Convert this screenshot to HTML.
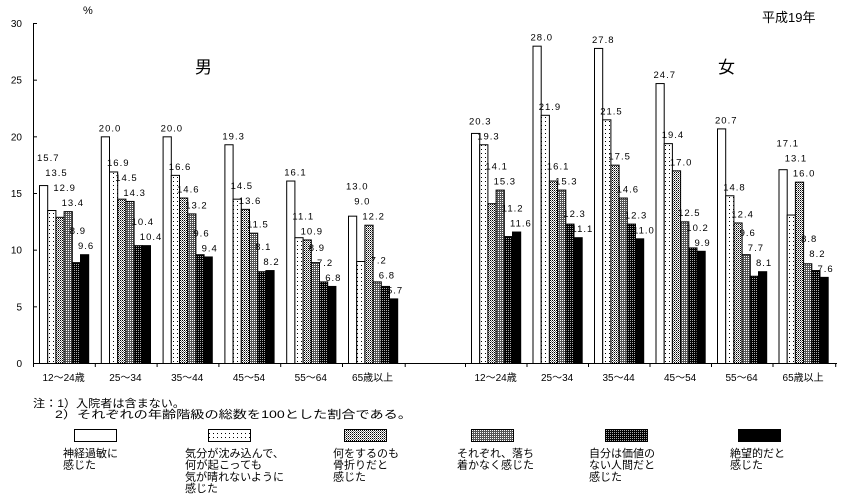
<!DOCTYPE html>
<html><head><meta charset="utf-8">
<style>
body{margin:0;background:#fff;}
svg{display:block;}
text{font-family:"Liberation Sans","Noto Sans CJK JP",sans-serif;fill:#000;}
</style></head>
<body>
<svg width="847" height="495" viewBox="0 0 847 495" xmlns="http://www.w3.org/2000/svg">
<defs>
<pattern id="p1" width="4" height="4" patternUnits="userSpaceOnUse"><rect width="4" height="4" fill="#fff"/><rect x="1" y="1" width="1" height="1" fill="#000"/></pattern>
<pattern id="p2" width="2" height="2" patternUnits="userSpaceOnUse"><rect width="2" height="2" fill="#fff"/><rect width="1" height="1" fill="#000"/><rect x="1" y="1" width="1" height="1" fill="#777"/></pattern>
<pattern id="p3" width="2" height="2" patternUnits="userSpaceOnUse"><rect width="2" height="2" fill="#555"/><rect width="1" height="1" fill="#fff"/></pattern>
<pattern id="p4" width="2" height="2" patternUnits="userSpaceOnUse"><rect width="2" height="2" fill="#000"/><rect width="1" height="1" fill="#aaa"/></pattern>
</defs>
<g id="axes"></g>
<g id="bars"></g>
<g id="labels"></g>
<text x="83" y="14" font-size="11">%</text>
<text x="762" y="22" font-size="13">平成19年</text>
<text x="195" y="73" font-size="17">男</text>
<text x="718" y="73" font-size="17">女</text>
<text x="33" y="407" font-size="11" textLength="152" lengthAdjust="spacingAndGlyphs">注：1）入院者は含まない。</text>
<text x="55" y="418" font-size="11" textLength="357" lengthAdjust="spacingAndGlyphs">2）それぞれの年齢階級の総数を100とした割合である。</text>
<g id="legend"></g>
</svg>
<script>
const categories=["12～24歳","25～34","35～44","45～54","55～64","65歳以上"];
const seriesNames=[["神経過敏に","感じた"],["気分が沈み込んで、","何が起こっても","気が晴れないように","感じた"],["何をするのも","骨折りだと","感じた"],["それぞれ、落ち","着かなく感じた"],["自分は価値の","ない人間だと","感じた"],["絶望的だと","感じた"]];
const male1=[15.7,20.0,20.0,19.3,16.1,13.0];
const male2=[13.5,16.9,16.6,14.5,11.1,9.0];
const male3=[12.9,14.5,14.6,13.6,10.9,12.2];
const male4=[13.4,14.3,13.2,11.5,8.9,7.2];
const male5=[8.9,10.4,9.6,8.1,7.2,6.8];
const male6=[9.6,10.4,9.4,8.2,6.8,5.7];
const female1=[20.3,28.0,27.8,24.7,20.7,17.1];
const female2=[19.3,21.9,21.5,19.4,14.8,13.1];
const female3=[14.1,16.1,17.5,17.0,12.4,16.0];
const female4=[15.3,15.3,14.6,12.5,9.6,8.8];
const female5=[11.2,12.3,12.3,10.2,7.7,8.2];
const female6=[11.6,11.1,11.0,9.9,8.1,7.6];
const yTicks=[0,5,10,15,20,25,30];

const NS="http://www.w3.org/2000/svg";
const fills=["#fff","url(#p1)","url(#p2)","url(#p3)","url(#p4)","#000"];
const y0=363, y30=23;
function yS(v){return y0-(v/30)*(y0-y30);}
const bw=8.2;
function mk(tag,attrs,parent){const e=document.createElementNS(NS,tag);for(const k in attrs)e.setAttribute(k,attrs[k]);parent.appendChild(e);return e;}
const axes=document.getElementById('axes'),bars=document.getElementById('bars'),labels=document.getElementById('labels'),legend=document.getElementById('legend');

const yAxis=mk('line',{x1:33.5,y1:y30,x2:33.5,y2:y0,stroke:'#000'},axes);


const xAxis=mk('line',{x1:33,y1:y0+0.5,x2:837,y2:y0+0.5,stroke:'#000'},axes);


yTicks.forEach(t=>{
  const y=yS(t);
  mk('line',{x1:33,y1:y+0.5,x2:37,y2:y+0.5,stroke:'#000'},axes);
  const tx=mk('text',{x:22,y:y+4,'font-size':10,'text-anchor':'end'},axes);
  tx.textContent=t;
  
  
});
function groupX(g,i){return g==0?39+61.8*i:471+61.5*i;}
const maleS=[male1,male2,male3,male4,male5,male6];
const femaleS=[female1,female2,female3,female4,female5,female6];
[maleS,femaleS].forEach((S,g)=>{
  categories.forEach((c,i)=>{
    const gx=groupX(g,i);
    mk('line',{x1:gx-5.5,y1:y0,x2:gx-5.5,y2:y0+4,stroke:'#000'},axes);
    const cl=mk('text',{x:gx+bw*3,y:381,'font-size':10,'text-anchor':'middle'},axes);
    cl.textContent=c;
    
    
    const ly=[];
    for(let s=5;s>=0;s--){
      let y=yS(S[s][i])-5;
      if(s<5) y=Math.min(y,ly[s+1]-15);
      ly[s]=y;
    }
    S.forEach((arr,s)=>{
      const v=arr[i],x=gx+s*bw,top=yS(v);
      const r=mk('rect',{x:x+0.5,y:top+0.5,width:bw,height:y0-top,fill:fills[s],stroke:'#000','stroke-width':1},bars);
      
      
      const t=mk('text',{x:x-2,y:ly[s],'font-size':9.5,'letter-spacing':'1'},labels);
      t.textContent=v.toFixed(1);
      
      
    });
  });
  mk('line',{x1:groupX(g,5)+bw*6+8,y1:y0,x2:groupX(g,5)+bw*6+8,y2:y0+4,stroke:'#000'},axes);
});
const lx=[74,208,344,471,605,738];
const tx0=[63,185,333,457,589,730];
lx.forEach((x,s)=>{
  const r=mk('rect',{x:x+0.5,y:429.5,width:42,height:12,fill:fills[s],stroke:'#000'},legend);
  
  
  seriesNames[s].forEach((ln,k)=>{
    const t=mk('text',{x:tx0[s],y:457+k*11.7,'font-size':11,textLength:ln.length*11,lengthAdjust:'spacingAndGlyphs'},legend);
    t.textContent=ln;
    
    
  });
});
</script>
</body></html>
